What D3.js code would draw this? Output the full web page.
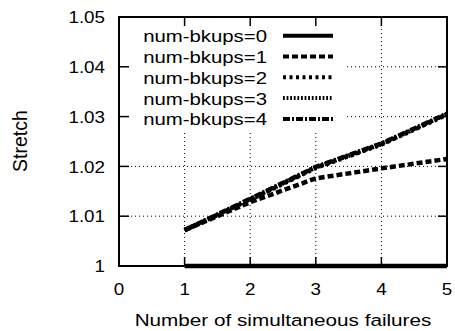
<!DOCTYPE html>
<html>
<head>
<meta charset="utf-8">
<script src="https://cdn.jsdelivr.net/npm/d3@7"></script>
<style>
  html, body { margin: 0; padding: 0; background: #fff; }
  svg { display: block; }
  text { font-family: "Liberation Sans", Arial, Helvetica, sans-serif; fill: #000; }
</style>
</head>
<body>
<svg id="chart" width="455" height="331"></svg>
<script>
// Stretch vs. number of simultaneous failures, per backup count
const failures = [1, 2, 3, 4, 5];
const bkups0 = [1.0000, 1.0000, 1.0000, 1.0000, 1.0000];
const bkups1 = [1.0072, 1.0128, 1.0176, 1.0196, 1.0215];
const bkups2 = [1.0072, 1.0133, 1.0197, 1.0244, 1.0304];
const bkups3 = [1.0072, 1.0134, 1.0198, 1.0245, 1.0305];
const bkups4 = [1.0072, 1.0135, 1.0199, 1.0246, 1.0306];
const seriesNames = ["num-bkups=0", "num-bkups=1", "num-bkups=2", "num-bkups=3", "num-bkups=4"];
const xTicks = [0, 1, 2, 3, 4, 5];
const yTicks = [1, 1.01, 1.02, 1.03, 1.04, 1.05];
const yTickLabels = ["1", "1.01", "1.02", "1.03", "1.04", "1.05"];

const series = [bkups0, bkups1, bkups2, bkups3, bkups4];
const dashes = [null, "6,3", "3,3.5", "1.8,1.8", "7,2,2,2"];

const svg = d3.select("#chart");
const plotL = 119, plotR = 447, plotT = 17, plotB = 266;
const fs = 17.4;

const x = d3.scaleLinear().domain([0, 5]).range([plotL, plotR]);
const y = d3.scaleLinear().domain([1, 1.05]).range([plotB, plotT]);

// grid lines
const grid = svg.append("g").attr("stroke", "#000").attr("stroke-width", 1)
  .attr("stroke-dasharray", "1,3");
grid.selectAll("line.gx").data(xTicks.slice(1, -1)).join("line")
  .attr("x1", d => x(d)).attr("x2", d => x(d)).attr("y1", plotB).attr("y2", plotT);
grid.selectAll("line.gy").data(yTicks.slice(1, -1)).join("line")
  .attr("y1", d => y(d)).attr("y2", d => y(d)).attr("x1", plotL).attr("x2", plotR);

// legend backdrop
svg.append("rect").attr("x", plotL).attr("y", plotT).attr("width", 227).attr("height", 113)
  .attr("fill", "#fff");

// inward ticks on all four sides
const ticks = svg.append("g").attr("stroke", "#000").attr("stroke-width", 1.5);
const tl = 9;
ticks.selectAll("line.b").data(xTicks.slice(1, -1)).join("line")
  .attr("x1", d => x(d)).attr("x2", d => x(d)).attr("y1", plotB).attr("y2", plotB - tl);
ticks.selectAll("line.t").data(xTicks.slice(1, -1)).join("line")
  .attr("x1", d => x(d)).attr("x2", d => x(d)).attr("y1", plotT).attr("y2", plotT + tl);
ticks.selectAll("line.l").data(yTicks.slice(1, -1)).join("line")
  .attr("y1", d => y(d)).attr("y2", d => y(d)).attr("x1", plotL).attr("x2", plotL + tl + 1);
ticks.selectAll("line.r").data(yTicks.slice(1, -1)).join("line")
  .attr("y1", d => y(d)).attr("y2", d => y(d)).attr("x1", plotR).attr("x2", plotR - tl);

// frame
svg.append("rect").attr("x", plotL).attr("y", plotT).attr("width", plotR - plotL)
  .attr("height", plotB - plotT).attr("fill", "none").attr("stroke", "#000").attr("stroke-width", 2);

// tick labels
svg.append("g").selectAll("text").data(yTicks).join("text")
  .attr("transform", d => `translate(105,${y(d) + 6.2}) scale(1.08,1)`)
  .attr("text-anchor", "end").attr("font-size", fs)
  .text((d, i) => yTickLabels[i]);
svg.append("g").selectAll("text").data(xTicks).join("text")
  .attr("transform", d => `translate(${x(d)},295) scale(1.08,1)`)
  .attr("text-anchor", "middle").attr("font-size", fs)
  .text(d => d);

// axis titles
svg.append("text").attr("transform", "translate(283,326) scale(1.19,1)")
  .attr("text-anchor", "middle").attr("font-size", fs).text("Number of simultaneous failures");
svg.append("text").attr("transform", "translate(26.5,141) rotate(-90)")
  .attr("text-anchor", "middle").attr("font-size", 19.5).text("Stretch");

// data lines
const line = d3.line().x((d, i) => x(failures[i])).y(d => y(d));
svg.append("g").selectAll("path").data(series).join("path")
  .attr("d", d => line(d))
  .attr("fill", "none").attr("stroke", "#000").attr("stroke-width", 4.5)
  .attr("stroke-dasharray", (d, i) => dashes[i]);

// legend
const lg = svg.append("g");
seriesNames.forEach((name, i) => {
  const cy = 35.7 + 20.8 * i;
  lg.append("text").attr("transform", `translate(267,${cy + 6.5}) scale(1.17,1)`)
    .attr("text-anchor", "end").attr("font-size", fs).text(name);
  lg.append("line").attr("x1", 283).attr("x2", 333).attr("y1", cy).attr("y2", cy)
    .attr("stroke", "#000").attr("stroke-width", 4).attr("stroke-dasharray", dashes[i]);
});
</script>
</body>
</html>
